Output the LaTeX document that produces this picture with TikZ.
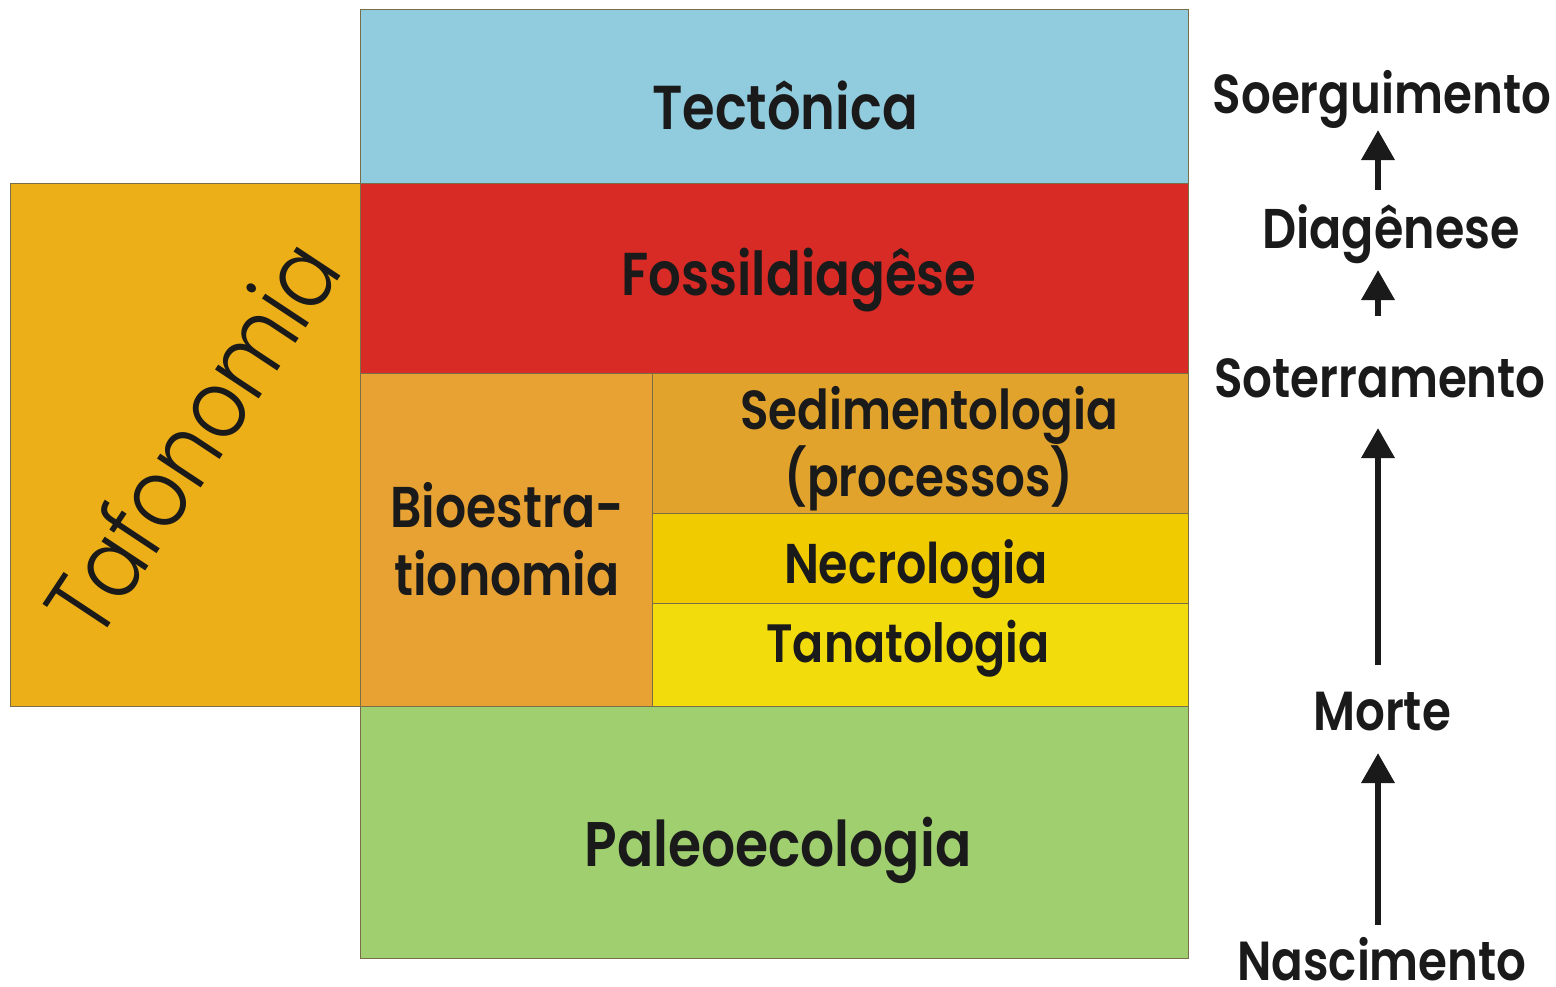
\documentclass[tikz,border=0pt]{standalone}
\usepackage{fontspec}
\setmainfont{Poppins}
\newfontfamily\lab{Poppins}[UprightFont=* SemiBold,FakeStretch=0.85]
\newfontfamily\thin{Poppins}[UprightFont=* Light,FakeStretch=0.87]
\usetikzlibrary{arrows.meta,calc}
\definecolor{cTec}{HTML}{91CBDE}
\definecolor{cFos}{HTML}{D92B26}
\definecolor{cTaf}{HTML}{EDAF17}
\definecolor{cBio}{HTML}{E8A133}
\definecolor{cSed}{HTML}{E1A32C}
\definecolor{cNec}{HTML}{F0CB00}
\definecolor{cTan}{HTML}{F3DC0B}
\definecolor{cPal}{HTML}{A0CF6F}
\definecolor{cLine}{HTML}{7A6E4A}
\definecolor{cTxt}{HTML}{1A1A1A}
\tikzset{
  box/.style={draw=cLine,line width=1pt},
  bigtxt/.style={text=cTxt,font=\lab\fontsize{62}{66}\selectfont,align=center,inner sep=0pt},
  midtxt/.style={text=cTxt,font=\lab\fontsize{55}{62}\selectfont,align=center,inner sep=0pt},
  sidetxt/.style={text=cTxt,font=\lab\fontsize{55}{60}\selectfont,inner sep=0pt},
  arr/.style={draw=cTxt,line width=6.5pt,-{Triangle[width=32pt,length=30pt]}}
}
\begin{document}
\begin{tikzpicture}[x=1pt,y=-1pt]
\useasboundingbox (0,0) rectangle (1556,986);
% boxes
\path[box,fill=cTec] (360,9) rectangle (1188,183);
\path[box,fill=cFos] (360,183) rectangle (1188,373);
\path[box,fill=cTaf] (10,183) rectangle (360,706);
\path[box,fill=cBio] (360,373) rectangle (652,706);
\path[box,fill=cSed] (652,373) rectangle (1188,513);
\path[box,fill=cNec] (652,513) rectangle (1188,603);
\path[box,fill=cTan] (652,603) rectangle (1188,706);
\path[box,fill=cPal] (360,706) rectangle (1188,958);
% labels
\node[bigtxt] (tec) at (785,105) {Tectônica};
\node[bigtxt,font=\lab\fontsize{60.5}{66}\selectfont] (fos) at (799,280) {Fossildiagêse};
\node[text=cTxt,font=\thin\fontsize{96}{100}\selectfont,inner sep=0pt,rotate=56.5] (taf) at (191,437) {Tafonomia};
\node[bigtxt,font=\lab\fontsize{57.5}{68}\selectfont] (bio) at (507,539) {Bioestra-\\tionomia};
\node[midtxt] (sed) at (929,449) {Sedimentologia\\(processos)};
\node[midtxt,font=\lab\fontsize{56}{62}\selectfont] (nec) at (916,569) {Necrologia};
\node[midtxt,font=\lab\fontsize{54}{62}\selectfont] (tan) at (908,649) {Tanatologia};
\node[bigtxt,font=\lab\fontsize{63}{66}\selectfont] (pal) at (778,850) {Paleoecologia};
% right column
\node[sidetxt] (soe) at (1382,99) {Soerguimento};
\node[sidetxt,font=\lab\fontsize{56}{60}\selectfont] (dia) at (1391,234) {Diagênese};
\node[sidetxt] (sot) at (1380,378) {Soterramento};
\node[sidetxt] (mor) at (1382,712) {Morte};
\node[sidetxt] (nas) at (1382,959) {Nascimento};
\draw[arr] ([shift={(-4,-34)}]nas.center) -- ([shift={(-4,41)}]mor.center);
\draw[arr] ([shift={(-4,-47)}]mor.center) -- ([shift={(-2,50)}]sot.center);
\draw[arr] ([shift={(-2,-62)}]sot.center) -- ([shift={(-13,36)}]dia.center);
\draw[arr] ([shift={(-13,-44)}]dia.center) -- ([shift={(-4,31)}]soe.center);
\end{tikzpicture}
\end{document}
